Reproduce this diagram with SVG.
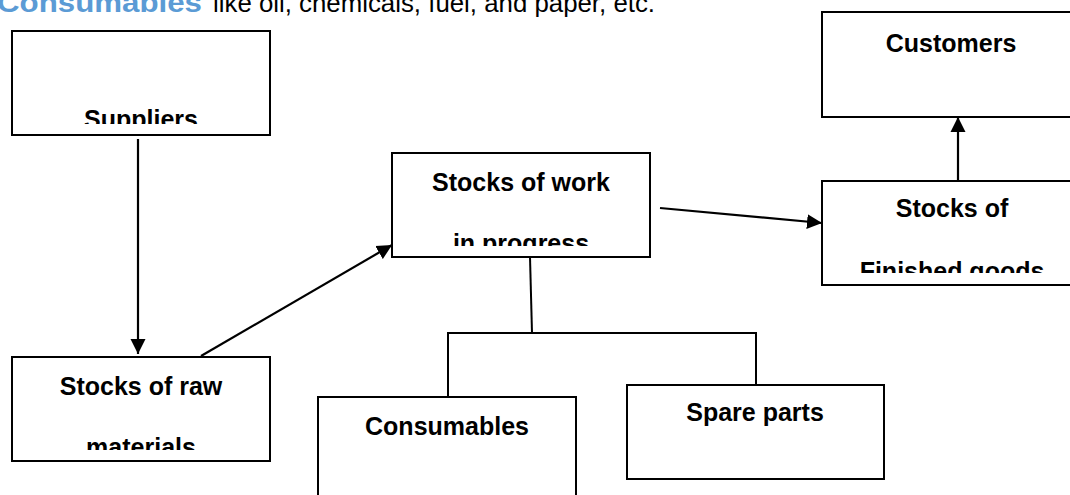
<svg xmlns="http://www.w3.org/2000/svg" width="1070" height="495" viewBox="0 0 1070 495">
  <style>
    .box { fill: #ffffff; stroke: #000000; stroke-width: 2; }
    .lbl { font-family: "Liberation Sans", Arial, sans-serif; font-weight: bold; font-size: 25px; fill: #000000; text-anchor: middle; }
    .con { stroke: #000000; stroke-width: 2; fill: none; }
    .arr { stroke: #000000; stroke-width: 2.2; fill: none; marker-end: url(#ah); }
  </style>
  <defs>
    <marker id="ah" markerUnits="userSpaceOnUse" markerWidth="16" markerHeight="16" viewBox="0 0 16 16" refX="15" refY="8" orient="auto">
      <path d="M0,0.5 L15,8 L0,15.5 Z" fill="#000000"/>
    </marker>
    <clipPath id="cSup"><rect x="12" y="31" width="258" height="93"/></clipPath>
    <clipPath id="cRaw"><rect x="12" y="357" width="258" height="93"/></clipPath>
    <clipPath id="cWip"><rect x="392" y="153" width="258" height="93"/></clipPath>
    <clipPath id="cFin"><rect x="822" y="181" width="260" height="92"/></clipPath>
  </defs>

  <g id="heading">
    <text x="-3" y="12" font-family="Liberation Sans, Arial, sans-serif" font-weight="bold" font-size="28" fill="#5B9BD5" textLength="205" lengthAdjust="spacingAndGlyphs">Consumables</text>
    <text x="213" y="12" font-family="Liberation Sans, Arial, sans-serif" font-size="26" fill="#000000" textLength="442" lengthAdjust="spacingAndGlyphs">like oil, chemicals, fuel, and paper, etc.</text>
  </g>

  <g id="connectors">
    <line class="arr" x1="138" y1="139" x2="138" y2="354"/>
    <line class="arr" x1="201" y1="356" x2="392" y2="245"/>
    <line class="arr" x1="660" y1="208" x2="822" y2="223"/>
    <line class="arr" x1="958" y1="181" x2="958" y2="117"/>
    <polyline class="con" points="530,257 532,333"/>
    <polyline class="con" points="448,397 448,333 756,333 756,385"/>
  </g>

  <g id="suppliers">
    <rect class="box" x="12" y="31" width="258" height="104"/>
    <text class="lbl" x="141" y="128" clip-path="url(#cSup)">Suppliers</text>
  </g>

  <g id="raw-materials">
    <rect class="box" x="12" y="357" width="258" height="104"/>
    <g clip-path="url(#cRaw)">
      <text class="lbl" x="141" y="395">Stocks of raw</text>
      <text class="lbl" x="141" y="456">materials</text>
    </g>
  </g>

  <g id="work-in-progress">
    <rect class="box" x="392" y="153" width="258" height="104"/>
    <g clip-path="url(#cWip)">
      <text class="lbl" x="521" y="191">Stocks of work</text>
      <text class="lbl" x="521" y="252">in progress</text>
    </g>
  </g>

  <g id="customers">
    <rect class="box" x="822" y="12" width="260" height="105"/>
    <text class="lbl" x="951" y="52">Customers</text>
  </g>

  <g id="finished-goods">
    <rect class="box" x="822" y="181" width="260" height="104"/>
    <g clip-path="url(#cFin)">
      <text class="lbl" x="952" y="217">Stocks of</text>
      <text class="lbl" x="952" y="280">Finished goods</text>
    </g>
  </g>

  <g id="consumables">
    <rect class="box" x="318" y="397" width="258" height="110"/>
    <text class="lbl" x="447" y="435">Consumables</text>
  </g>

  <g id="spare-parts">
    <rect class="box" x="627" y="385" width="257" height="94"/>
    <text class="lbl" x="755" y="421">Spare parts</text>
  </g>
</svg>
